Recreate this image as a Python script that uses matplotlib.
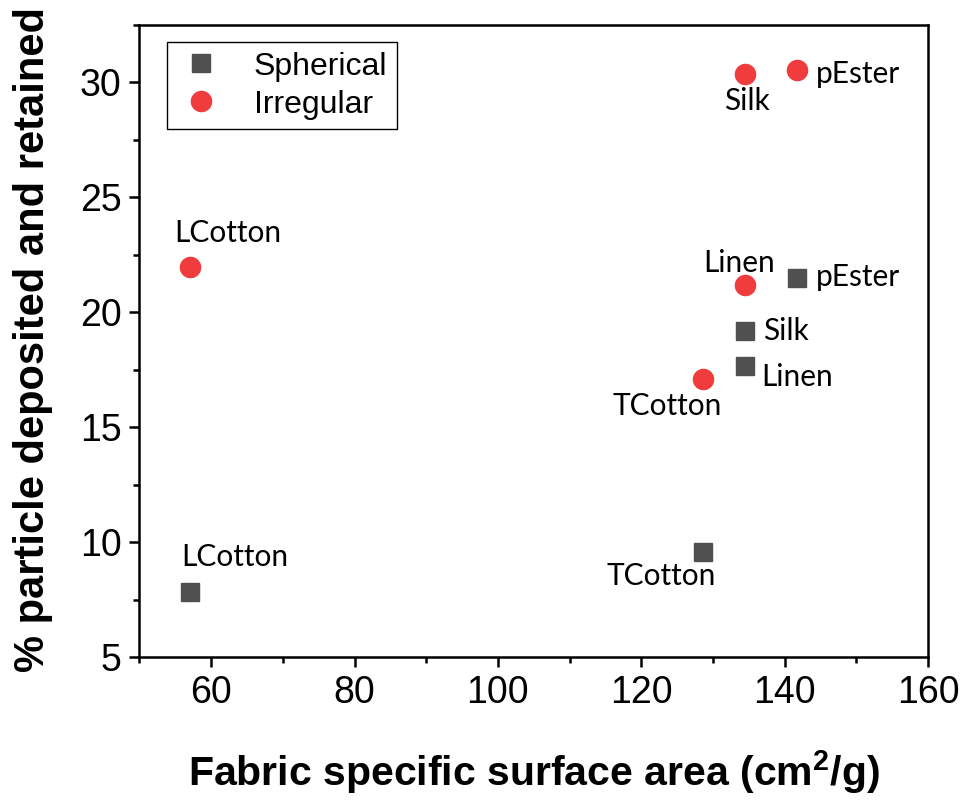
import matplotlib
matplotlib.use("Agg")
import matplotlib.pyplot as plt
from matplotlib.ticker import MultipleLocator

# Fabric specific surface area (cm2/g) and % particle deposited and retained
fabrics = ["LCotton", "TCotton", "Linen", "Silk", "pEster"]
surface_area = [57.1, 128.6, 134.4, 134.4, 141.7]
spherical = [7.83, 9.57, 17.65, 19.2, 21.48]
irregular = [21.96, 17.09, 21.17, 30.35, 30.55]

# label offsets (points) for each annotated marker
sph_offsets = [(32, 25), (-30, -17), (38, -8), (30, 0), (44, 1)]
irr_offsets = [(27, 25), (-26, -19), (-4, 16), (2, -19), (44, -3)]

plt.rcParams["font.family"] = ["Liberation Sans", "DejaVu Sans"]
plt.rcParams["mathtext.fontset"] = "custom"
plt.rcParams["mathtext.rm"] = "Liberation Sans"
plt.rcParams["mathtext.bf"] = "Liberation Sans:bold"

fig = plt.figure(figsize=(9.65, 8.0), dpi=100)
ax = fig.add_axes([0.1445, 0.17875, 0.8172, 0.79])

sq_color = "#505050"
ci_color = "#F03C3C"

ax.plot(surface_area, spherical, linestyle="none", marker="s", markersize=13,
        color=sq_color, label="Spherical")
ax.plot(surface_area, irregular, linestyle="none", marker="o", markersize=14.5,
        color=ci_color, label="Irregular")

for name, x, y, off in zip(fabrics, surface_area, spherical, sph_offsets):
    ax.annotate(name, (x, y), xytext=off, textcoords="offset points",
                ha="center", va="center", fontsize=21.5, family="Lato")
for name, x, y, off in zip(fabrics, surface_area, irregular, irr_offsets):
    ax.annotate(name, (x, y), xytext=off, textcoords="offset points",
                ha="center", va="center", fontsize=21.5, family="Lato")

ax.set_xlim(50, 160)
ax.set_ylim(5, 32.5)
ax.xaxis.set_major_locator(MultipleLocator(20))
ax.xaxis.set_minor_locator(MultipleLocator(10))
ax.yaxis.set_major_locator(MultipleLocator(5))
ax.yaxis.set_minor_locator(MultipleLocator(2.5))

for s in ax.spines.values():
    s.set_linewidth(1.8)
ax.tick_params(which="major", direction="out", length=7, width=1.8,
               labelsize=27, pad=6)
ax.tick_params(which="minor", direction="out", length=4, width=1.8)
ax.tick_params(top=False, right=False, which="both")

fig.text(534 / 965, 1 - 772 / 800,
         r"Fabric specific surface area (cm$^{\mathbf{2}}$/g)",
         ha="center", va="center", fontsize=29.5, fontweight="bold")
fig.text(33 / 965, 1 - 340 / 800, "% particle deposited and retained",
         ha="center", va="center", rotation=90, fontsize=30, fontweight="bold")

leg = ax.legend(loc="upper left", bbox_to_anchor=(0.0355, 0.973), fontsize=23,
                frameon=True, fancybox=False, edgecolor="black", framealpha=1,
                borderpad=0.3, labelspacing=0.25, handletextpad=0.9,
                borderaxespad=0, handlelength=1.5)
leg.get_frame().set_linewidth(1.0)

fig.savefig("out.png", dpi=100)
